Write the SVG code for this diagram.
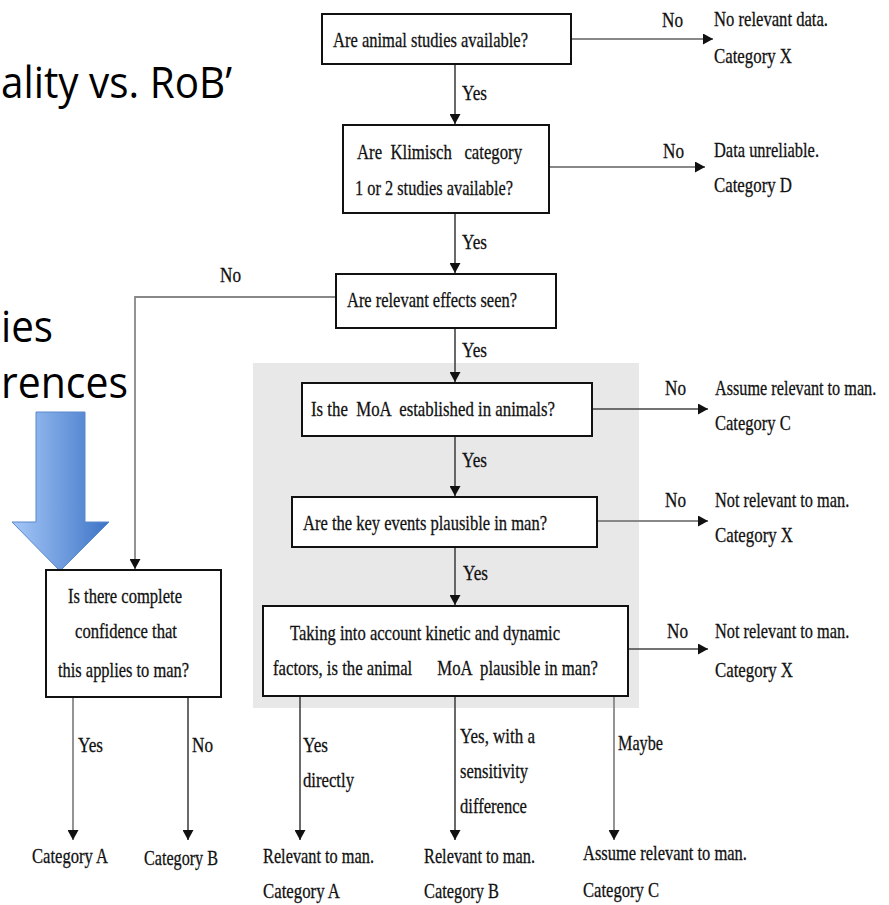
<svg xmlns="http://www.w3.org/2000/svg" width="889" height="905" viewBox="0 0 889 905">
<style>
.t{font-family:"Liberation Serif","Times New Roman",serif;font-size:22px;fill:#111;stroke:#111;stroke-width:0.3;}
.big{font-family:"Open Sans","Liberation Sans",sans-serif;font-size:44px;fill:#000;}
.box{fill:#fff;stroke:#111;stroke-width:2;}
.ln{fill:none;stroke:#444;stroke-width:1.6;}
.lg{fill:none;stroke:#888;stroke-width:1.8;}
</style>
<defs>
<marker id="ah" viewBox="0 0 10 11" refX="10" refY="5.5" markerWidth="10" markerHeight="11" markerUnits="userSpaceOnUse" orient="auto">
<path d="M0,0 L10,5.5 L0,11 z" fill="#111"/>
</marker>
<linearGradient id="blue" gradientUnits="userSpaceOnUse" x1="12" y1="0" x2="109" y2="0">
<stop offset="0" stop-color="#a6c8f8"/>
<stop offset="1" stop-color="#3d74c6"/>
</linearGradient>
</defs>
<rect width="889" height="905" fill="#fff"/>

<g id="slide-text">
<text class="big" x="1" y="98" textLength="231" lengthAdjust="spacingAndGlyphs">ality vs. RoB’</text>
<text class="big" x="1" y="342" textLength="52" lengthAdjust="spacingAndGlyphs">ies</text>
<text class="big" x="1" y="398" textLength="127" lengthAdjust="spacingAndGlyphs">rences</text>
</g>

<g id="shade">
<rect x="253" y="363" width="386" height="345" fill="#e8e8e8"/>
</g>

<g id="blue-arrow">
<polygon points="36,412 85,412 85,522 109,522 60,571 12,522 36,522" fill="url(#blue)" stroke="#5a88cc" stroke-width="1"/>
</g>

<g id="connectors">
<line class="ln" x1="455" y1="64" x2="455" y2="124" marker-end="url(#ah)"/>
<line class="ln" x1="455" y1="213" x2="455" y2="273" marker-end="url(#ah)"/>
<line class="ln" x1="455" y1="328" x2="455" y2="382" marker-end="url(#ah)"/>
<line class="ln" x1="455" y1="436" x2="455" y2="496" marker-end="url(#ah)"/>
<line class="ln" x1="455" y1="547" x2="455" y2="605" marker-end="url(#ah)"/>
<line class="lg" x1="571" y1="39" x2="713" y2="39" marker-end="url(#ah)"/>
<line class="lg" x1="549" y1="167" x2="705" y2="167" marker-end="url(#ah)"/>
<line class="ln" x1="592" y1="409" x2="708" y2="409" marker-end="url(#ah)"/>
<line class="lg" x1="597" y1="521" x2="708" y2="521" marker-end="url(#ah)"/>
<line class="ln" x1="628" y1="649" x2="708" y2="649" marker-end="url(#ah)"/>
<polyline class="lg" points="336,297 135,297 135,569" marker-end="url(#ah)"/>
<line class="lg" x1="73" y1="697" x2="73" y2="840" marker-end="url(#ah)"/>
<line class="ln" x1="188" y1="697" x2="188" y2="840" marker-end="url(#ah)"/>
<line class="ln" x1="300" y1="696" x2="300" y2="840" marker-end="url(#ah)"/>
<line class="ln" x1="455" y1="696" x2="455" y2="840" marker-end="url(#ah)"/>
<line class="lg" x1="614" y1="696" x2="614" y2="840" marker-end="url(#ah)"/>
</g>

<g id="edge-labels">
<text class="t" x="462" y="100" textLength="25" lengthAdjust="spacingAndGlyphs">Yes</text>
<text class="t" x="462" y="249" textLength="25" lengthAdjust="spacingAndGlyphs">Yes</text>
<text class="t" x="462" y="357" textLength="25" lengthAdjust="spacingAndGlyphs">Yes</text>
<text class="t" x="462" y="467" textLength="25" lengthAdjust="spacingAndGlyphs">Yes</text>
<text class="t" x="463" y="580" textLength="25" lengthAdjust="spacingAndGlyphs">Yes</text>
<text class="t" x="662" y="27" textLength="21" lengthAdjust="spacingAndGlyphs">No</text>
<text class="t" x="663" y="158" textLength="21" lengthAdjust="spacingAndGlyphs">No</text>
<text class="t" x="665" y="395" textLength="21" lengthAdjust="spacingAndGlyphs">No</text>
<text class="t" x="665" y="507" textLength="21" lengthAdjust="spacingAndGlyphs">No</text>
<text class="t" x="667" y="638" textLength="21" lengthAdjust="spacingAndGlyphs">No</text>
<text class="t" x="220" y="282" textLength="21" lengthAdjust="spacingAndGlyphs">No</text>
<text class="t" x="78" y="752" textLength="25" lengthAdjust="spacingAndGlyphs">Yes</text>
<text class="t" x="192" y="752" textLength="21" lengthAdjust="spacingAndGlyphs">No</text>
<text class="t" x="303" y="752" textLength="25" lengthAdjust="spacingAndGlyphs">Yes</text>
<text class="t" x="303" y="787" textLength="51" lengthAdjust="spacingAndGlyphs">directly</text>
<text class="t" x="460" y="743" textLength="75" lengthAdjust="spacingAndGlyphs">Yes, with a</text>
<text class="t" x="460" y="778" textLength="68" lengthAdjust="spacingAndGlyphs">sensitivity</text>
<text class="t" x="460" y="813" textLength="67" lengthAdjust="spacingAndGlyphs">difference</text>
<text class="t" x="618" y="750" textLength="45" lengthAdjust="spacingAndGlyphs">Maybe</text>
</g>

<g id="q1">
<rect class="box" x="322" y="14" width="249" height="50"/>
<text class="t" x="333" y="47" textLength="195" lengthAdjust="spacingAndGlyphs">Are animal studies available?</text>
</g>
<g id="q2">
<rect class="box" x="343" y="125" width="206" height="88"/>
<text class="t" x="357" y="159" textLength="165" lengthAdjust="spacingAndGlyphs" xml:space="preserve">Are  Klimisch   category</text>
<text class="t" x="355" y="195" textLength="158" lengthAdjust="spacingAndGlyphs">1 or 2 studies available?</text>
</g>
<g id="q3">
<rect class="box" x="336" y="274" width="220" height="54"/>
<text class="t" x="347" y="307" textLength="170" lengthAdjust="spacingAndGlyphs">Are relevant effects seen?</text>
</g>
<g id="q4">
<rect class="box" x="302" y="383" width="290" height="53"/>
<text class="t" x="311" y="416" textLength="244" lengthAdjust="spacingAndGlyphs" xml:space="preserve">Is the  MoA  established in animals?</text>
</g>
<g id="q5">
<rect class="box" x="292" y="497" width="305" height="50"/>
<text class="t" x="303" y="530" textLength="244" lengthAdjust="spacingAndGlyphs">Are the key events plausible in man?</text>
</g>
<g id="q6">
<rect class="box" x="263" y="606" width="365" height="90"/>
<text class="t" x="290" y="640" textLength="270" lengthAdjust="spacingAndGlyphs">Taking into account kinetic and dynamic</text>
<text class="t" x="273" y="675" textLength="325" lengthAdjust="spacingAndGlyphs" xml:space="preserve">factors, is the animal      MoA  plausible in man?</text>
</g>
<g id="q7">
<rect class="box" x="46" y="570" width="175" height="127"/>
<text class="t" x="68" y="603" textLength="114" lengthAdjust="spacingAndGlyphs">Is there complete</text>
<text class="t" x="75" y="638" textLength="102" lengthAdjust="spacingAndGlyphs">confidence that</text>
<text class="t" x="58" y="677" textLength="131" lengthAdjust="spacingAndGlyphs">this applies to man?</text>
</g>

<g id="out-x1">
<text class="t" transform="translate(714,26) scale(0.75,1)" textLength="152" lengthAdjust="spacingAndGlyphs">No relevant data.</text>
<text class="t" transform="translate(714,63) scale(0.75,1)" textLength="104" lengthAdjust="spacingAndGlyphs">Category X</text>
</g>
<g id="out-d">
<text class="t" transform="translate(714,157) scale(0.75,1)" textLength="140" lengthAdjust="spacingAndGlyphs">Data unreliable.</text>
<text class="t" transform="translate(714,192) scale(0.75,1)" textLength="104" lengthAdjust="spacingAndGlyphs">Category D</text>
</g>
<g id="out-c1">
<text class="t" transform="translate(715,395) scale(0.75,1)" textLength="215" lengthAdjust="spacingAndGlyphs">Assume relevant to man.</text>
<text class="t" transform="translate(715,430) scale(0.75,1)" textLength="101" lengthAdjust="spacingAndGlyphs">Category C</text>
</g>
<g id="out-x2">
<text class="t" transform="translate(715,507) scale(0.75,1)" textLength="179" lengthAdjust="spacingAndGlyphs">Not relevant to man.</text>
<text class="t" transform="translate(715,542) scale(0.75,1)" textLength="104" lengthAdjust="spacingAndGlyphs">Category X</text>
</g>
<g id="out-x3">
<text class="t" transform="translate(715,638) scale(0.75,1)" textLength="179" lengthAdjust="spacingAndGlyphs">Not relevant to man.</text>
<text class="t" transform="translate(715,677) scale(0.75,1)" textLength="104" lengthAdjust="spacingAndGlyphs">Category X</text>
</g>
<g id="out-a1">
<text class="t" x="32" y="863" textLength="76" lengthAdjust="spacingAndGlyphs">Category A</text>
</g>
<g id="out-b1">
<text class="t" x="144" y="865" textLength="74" lengthAdjust="spacingAndGlyphs">Category B</text>
</g>
<g id="out-a2">
<text class="t" x="263" y="863" textLength="111" lengthAdjust="spacingAndGlyphs">Relevant to man.</text>
<text class="t" x="263" y="898" textLength="77" lengthAdjust="spacingAndGlyphs">Category A</text>
</g>
<g id="out-b2">
<text class="t" x="424" y="863" textLength="111" lengthAdjust="spacingAndGlyphs">Relevant to man.</text>
<text class="t" x="424" y="898" textLength="75" lengthAdjust="spacingAndGlyphs">Category B</text>
</g>
<g id="out-c2">
<text class="t" x="583" y="860" textLength="164" lengthAdjust="spacingAndGlyphs">Assume relevant to man.</text>
<text class="t" x="583" y="897" textLength="76" lengthAdjust="spacingAndGlyphs">Category C</text>
</g>
</svg>
